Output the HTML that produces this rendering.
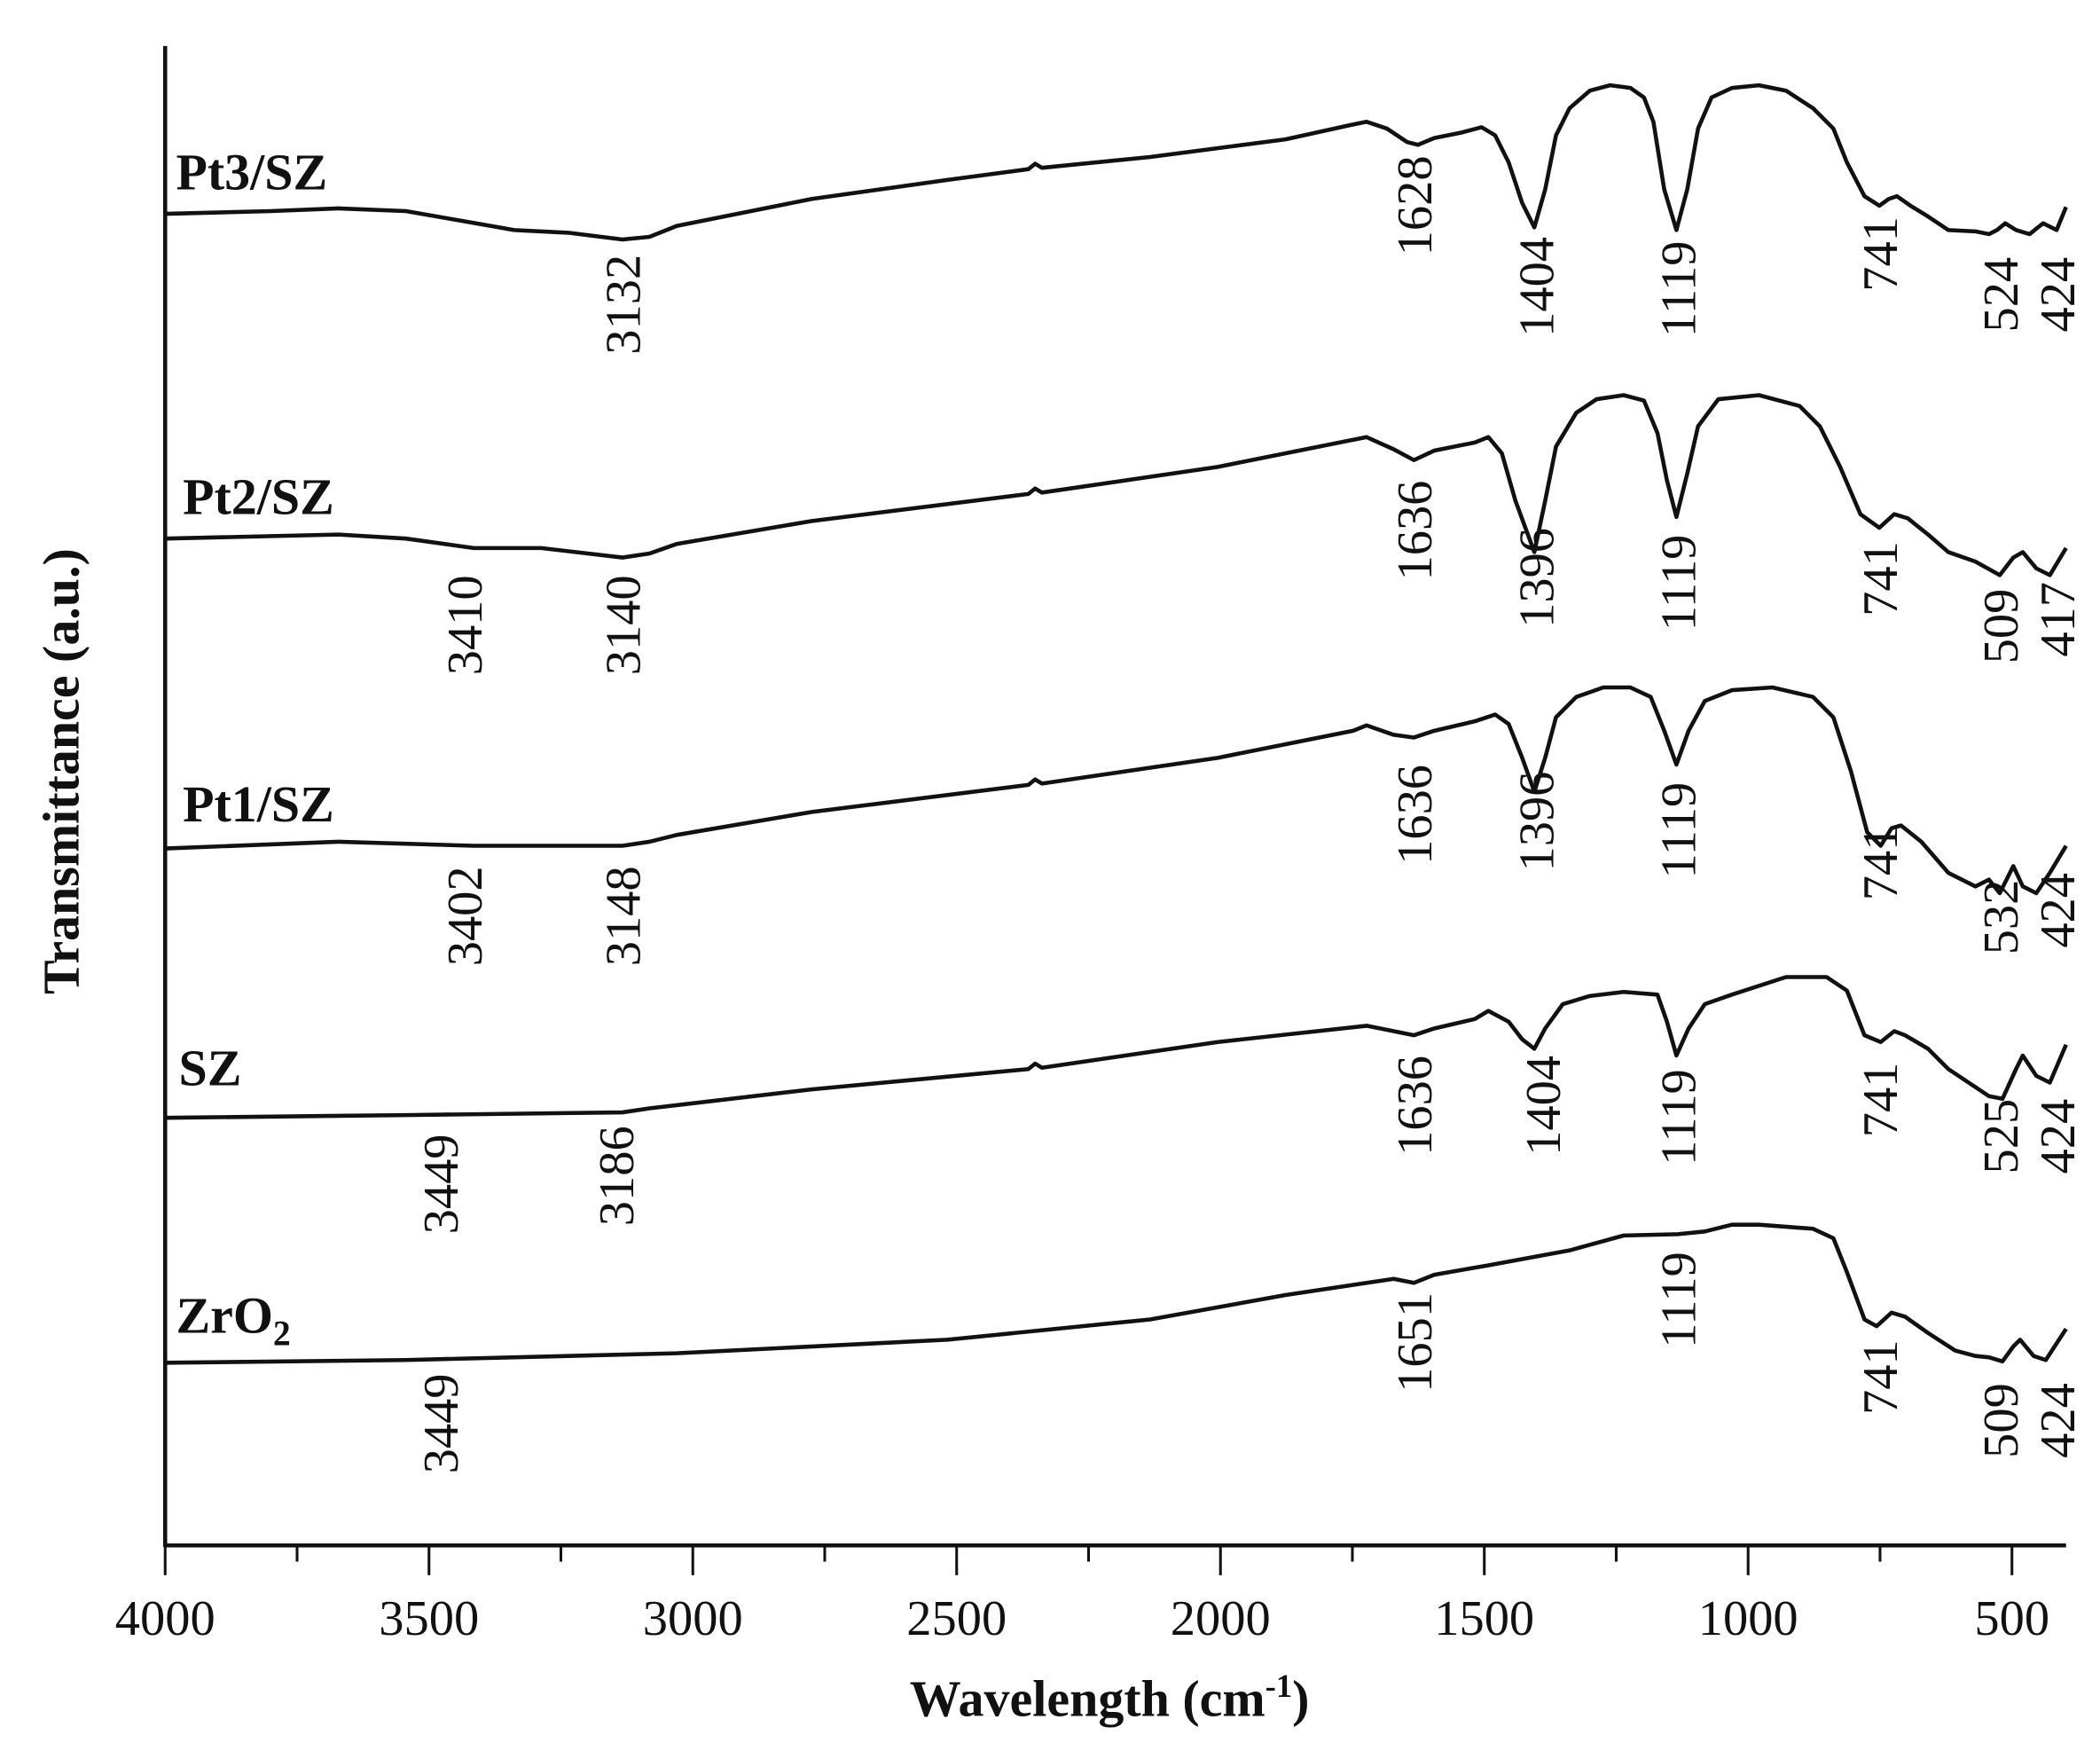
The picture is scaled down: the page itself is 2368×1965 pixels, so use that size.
<!DOCTYPE html>
<html><head><meta charset="utf-8"><style>
html,body{margin:0;padding:0;background:#fff;}
svg{display:block;}
text{font-family:"Liberation Serif",serif;fill:#111;}
.lab{font-size:37px;}
.b{font-weight:bold;font-size:38px;}
.c{fill:none;stroke:#111;stroke-width:3;stroke-linejoin:round;}
</style></head><body>
<svg width="2368" height="1965" viewBox="0 0 1552 1288" xmlns="http://www.w3.org/2000/svg">
<rect width="1552" height="1288" fill="#fff"/>
<line x1="122" y1="34" x2="122" y2="1143" stroke="#111" stroke-width="3"/>
<line x1="121" y1="1142" x2="1527" y2="1142" stroke="#111" stroke-width="3"/>
<g stroke="#111" stroke-width="2">
<line x1="122" y1="1142" x2="122" y2="1164"/><line x1="219.5" y1="1142" x2="219.5" y2="1154"/>
<line x1="317" y1="1142" x2="317" y2="1164"/><line x1="414.5" y1="1142" x2="414.5" y2="1154"/>
<line x1="512" y1="1142" x2="512" y2="1164"/><line x1="609.5" y1="1142" x2="609.5" y2="1154"/>
<line x1="707" y1="1142" x2="707" y2="1164"/><line x1="804.5" y1="1142" x2="804.5" y2="1154"/>
<line x1="902" y1="1142" x2="902" y2="1164"/><line x1="999.5" y1="1142" x2="999.5" y2="1154"/>
<line x1="1097" y1="1142" x2="1097" y2="1164"/><line x1="1194.5" y1="1142" x2="1194.5" y2="1154"/>
<line x1="1292" y1="1142" x2="1292" y2="1164"/><line x1="1389.5" y1="1142" x2="1389.5" y2="1154"/>
<line x1="1487" y1="1142" x2="1487" y2="1164"/>
</g>
<g class="lab" text-anchor="middle">
<text x="122" y="1208">4000</text><text x="317" y="1208">3500</text><text x="512" y="1208">3000</text>
<text x="707" y="1208">2500</text><text x="902" y="1208">2000</text><text x="1097" y="1208">1500</text>
<text x="1292" y="1208">1000</text><text x="1487" y="1208">500</text>
</g>
<text class="b" x="820" y="1268" text-anchor="middle">Wavelength (cm<tspan dy="-14" font-size="24">-1</tspan><tspan dy="14">)</tspan></text>
<text class="b" transform="translate(58,570) rotate(-90)" text-anchor="middle">Transmittance (a.u.)</text>

<text class="b" x="130" y="140">Pt3/SZ</text>
<text class="b" x="135" y="380">Pt2/SZ</text>
<text class="b" x="135" y="607">Pt1/SZ</text>
<text class="b" x="132" y="802">SZ</text>
<text class="b" x="130" y="985">ZrO<tspan dy="9" font-size="26">2</tspan></text>

<polyline class="c" points="122,158 200,156 250,154 300,156 340,163 380,170 420,172 460,177 480,175 500,167 550,157 600,147 700,133 760,125 765,121 770,124 850,116 950,103 1000,92 1010,90 1025,95 1040,105 1048,107 1060,102 1080,98 1095,94 1105,100 1115,120 1125,150 1134,168 1142,140 1150,100 1160,80 1175,67 1190,63 1205,65 1215,72 1222,90 1230,140 1239,170 1247,140 1255,95 1265,72 1280,65 1300,63 1320,67 1340,80 1355,95 1365,120 1378,145 1389,152 1396,147 1402,145 1412,152 1425,160 1440,170 1460,171 1470,173 1476,170 1482,165 1490,170 1500,173 1510,165 1520,170 1527,153"/>
<polyline class="c" points="122,398 250,395 300,398 350,405 400,405 460,412 480,409 500,402 600,385 760,365 765,361 770,364 900,345 1000,325 1010,323 1030,332 1045,340 1060,333 1090,327 1100,323 1110,335 1120,370 1134,408 1142,370 1150,330 1165,305 1180,295 1200,292 1215,296 1225,320 1232,355 1239,382 1247,350 1255,315 1270,295 1300,292 1330,300 1345,315 1360,345 1375,380 1389,390 1400,380 1410,383 1425,395 1440,408 1460,415 1478,425 1488,412 1495,408 1505,420 1515,425 1527,405"/>
<polyline class="c" points="122,627 250,622 350,625 460,625 480,622 500,617 600,600 760,580 765,576 770,579 900,560 1000,540 1010,536 1030,543 1045,545 1060,540 1090,533 1105,528 1115,535 1125,560 1134,585 1142,560 1150,530 1165,515 1185,508 1205,508 1220,515 1230,540 1239,565 1248,540 1260,518 1280,510 1310,508 1340,515 1355,530 1368,570 1380,615 1390,625 1398,612 1405,610 1420,622 1440,645 1460,655 1470,650 1478,660 1488,640 1495,655 1505,660 1515,645 1527,625"/>
<polyline class="c" points="122,826 300,824 460,822 480,819 600,805 760,790 765,786 770,789 900,770 1010,758 1030,762 1045,765 1060,760 1090,753 1100,747 1115,755 1125,768 1134,775 1142,760 1155,742 1175,736 1200,733 1225,735 1232,755 1239,780 1248,760 1260,742 1280,735 1320,722 1350,722 1365,732 1378,765 1390,770 1400,762 1408,765 1425,775 1440,790 1455,800 1470,810 1480,812 1490,790 1495,780 1505,795 1515,800 1527,772"/>
<polyline class="c" points="122,1007 300,1005 500,1000 700,990 850,975 950,957 1030,945 1045,948 1060,942 1100,935 1160,924 1200,913 1240,912 1260,910 1280,905 1300,905 1340,908 1355,915 1365,940 1378,975 1387,980 1398,970 1408,973 1425,985 1445,998 1460,1002 1470,1003 1480,1006 1488,995 1493,990 1503,1002 1512,1005 1527,982"/>

<g class="lab" text-anchor="end">
<text transform="translate(473,188) rotate(-90)">3132</text>
<text transform="translate(1058,115) rotate(-90)">1628</text>
<text transform="translate(1148,175) rotate(-90)">1404</text>
<text transform="translate(1253,178) rotate(-90)">1119</text>
<text transform="translate(1402,160) rotate(-90)">741</text>
<text transform="translate(1491,190) rotate(-90)">524</text>
<text transform="translate(1533,190) rotate(-90)">424</text>

<text transform="translate(356,425) rotate(-90)">3410</text>
<text transform="translate(473,425) rotate(-90)">3140</text>
<text transform="translate(1058,355) rotate(-90)">1636</text>
<text transform="translate(1148,390) rotate(-90)">1396</text>
<text transform="translate(1253,395) rotate(-90)">1119</text>
<text transform="translate(1402,400) rotate(-90)">741</text>
<text transform="translate(1491,435) rotate(-90)">509</text>
<text transform="translate(1533,430) rotate(-90)">417</text>

<text transform="translate(356,640) rotate(-90)">3402</text>
<text transform="translate(473,640) rotate(-90)">3148</text>
<text transform="translate(1058,565) rotate(-90)">1636</text>
<text transform="translate(1148,570) rotate(-90)">1396</text>
<text transform="translate(1253,578) rotate(-90)">1119</text>
<text transform="translate(1402,610) rotate(-90)">741</text>
<text transform="translate(1491,650) rotate(-90)">532</text>
<text transform="translate(1533,645) rotate(-90)">424</text>

<text transform="translate(338,838) rotate(-90)">3449</text>
<text transform="translate(468,832) rotate(-90)">3186</text>
<text transform="translate(1058,780) rotate(-90)">1636</text>
<text transform="translate(1153,780) rotate(-90)">1404</text>
<text transform="translate(1253,790) rotate(-90)">1119</text>
<text transform="translate(1402,785) rotate(-90)">741</text>
<text transform="translate(1491,812) rotate(-90)">525</text>
<text transform="translate(1533,812) rotate(-90)">424</text>

<text transform="translate(338,1015) rotate(-90)">3449</text>
<text transform="translate(1058,955) rotate(-90)">1651</text>
<text transform="translate(1253,925) rotate(-90)">1119</text>
<text transform="translate(1402,990) rotate(-90)">741</text>
<text transform="translate(1491,1022) rotate(-90)">509</text>
<text transform="translate(1533,1022) rotate(-90)">424</text>
</g>
</svg>
</body></html>
